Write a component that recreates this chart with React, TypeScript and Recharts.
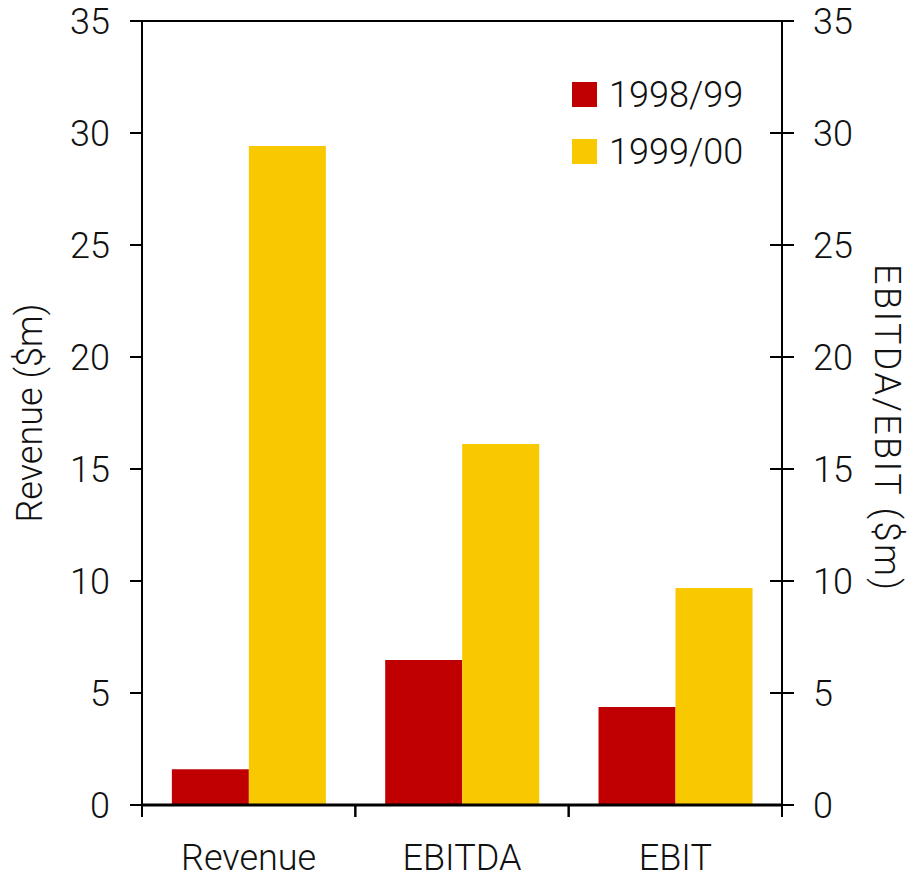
import { BarChart, Bar, XAxis, YAxis, ReferenceLine } from 'recharts'

const categories = ['Revenue', 'EBITDA', 'EBIT']
const fy9899 = [1.6, 6.47, 4.38]
const fy9900 = [29.42, 16.12, 9.69]
const yTicks = [0, 5, 10, 15, 20, 25, 30, 35]
const seriesNames = ['1998/99', '1999/00']

const RED = '#c00000'
const YELLOW = '#f8c800'
const FONT = 'Roboto, "Liberation Sans", sans-serif'

const W = 908
const H = 880
const LEFT_W = 142
const RIGHT_W = 126
const TOP = 21
const X_H = 75
const BAND = (W - LEFT_W - RIGHT_W) / categories.length

const data = categories.map((name, i) => ({
  name,
  a: fy9899[i],
  b: fy9900[i],
}))

const textStyle = { fontFamily: FONT, fontSize: 36, fill: '#111', fontWeight: 300 }

function LeftTick({ x, y, payload }: any) {
  return (
    <g>
      <line x1={x - 12} x2={x} y1={y} y2={y} stroke="#000" strokeWidth={2} />
      <text x={x - 32} y={y} dy="0.36em" textAnchor="end" {...textStyle}>{payload.value}</text>
    </g>
  )
}

function RightTick({ x, y, payload }: any) {
  return (
    <g>
      <line x1={x - 12} x2={x + 12} y1={y} y2={y} stroke="#000" strokeWidth={2} />
      <text x={x + 31} y={y} dy="0.36em" textAnchor="start" {...textStyle}>{payload.value}</text>
    </g>
  )
}

// category labels, with tick marks on the band edges
function CategoryTick({ x, y, payload }: any) {
  return (
    <g>
      <line x1={x - BAND / 2} x2={x - BAND / 2} y1={y} y2={y + 12} stroke="#000" strokeWidth={2} />
      <line x1={x + BAND / 2} x2={x + BAND / 2} y1={y} y2={y + 12} stroke="#000" strokeWidth={2} />
      <text x={x} y={y + 65} textAnchor="middle" {...textStyle}>{payload.value}</text>
    </g>
  )
}

function LegendBox() {
  const colors = [RED, YELLOW]
  return (
    <div
      style={{
        position: 'absolute', left: 572, top: 66,
        fontFamily: FONT, fontSize: 36, fontWeight: 300, color: '#111',
      }}
    >
      {seriesNames.map((n, i) => (
        <div key={n} style={{ display: 'flex', alignItems: 'center', height: 57 }}>
          <span style={{ width: 25, height: 25, background: colors[i], marginRight: 12, display: 'inline-block' }} />
          <span>{n}</span>
        </div>
      ))}
    </div>
  )
}

export default function App() {
  return (
    <div style={{ position: 'absolute', left: 0, top: 0, width: W, height: H, background: '#fff' }}>
      <BarChart
        width={W}
        height={H}
        data={data}
        margin={{ top: TOP, right: 0, bottom: 0, left: 0 }}
        barCategoryGap="14%"
        barGap={0}
      >
        <XAxis
          dataKey="name"
          height={X_H}
          axisLine={{ stroke: '#000', strokeWidth: 3 }}
          tickLine={false}
          tickSize={0}
          tickMargin={0}
          tick={<CategoryTick />}
          interval={0}
        />
        <YAxis
          yAxisId="left"
          width={LEFT_W}
          domain={[0, 35]}
          ticks={yTicks}
          axisLine={{ stroke: '#000', strokeWidth: 2 }}
          tickLine={false}
          tickSize={0}
          tickMargin={0}
          tick={<LeftTick />}
          label={{
            content: ({ viewBox }: any) => (
              <text
                x={29}
                y={viewBox.y + viewBox.height / 2}
                transform={`rotate(-90 29 ${viewBox.y + viewBox.height / 2})`}
                textAnchor="middle"
                dy="0.36em"
                {...textStyle}
              >
                Revenue ($m)
              </text>
            ),
          }}
        />
        <YAxis
          yAxisId="right"
          orientation="right"
          width={RIGHT_W}
          domain={[0, 35]}
          ticks={yTicks}
          axisLine={{ stroke: '#000', strokeWidth: 2 }}
          tickLine={false}
          tickSize={0}
          tickMargin={0}
          tick={<RightTick />}
          label={{
            content: ({ viewBox }: any) => {
              const cy = viewBox.y + viewBox.height / 2 + 14
              return (
                <text
                  x={888}
                  y={cy}
                  transform={`rotate(90 888 ${cy})`}
                  textAnchor="middle"
                  dy="0.36em"
                  textLength={326}
                  lengthAdjust="spacing"
                  {...textStyle}
                >
                  EBITDA/EBIT  ($m)
                </text>
              )
            },
          }}
        />
        <ReferenceLine yAxisId="left" y={35} stroke="#000" strokeWidth={2} />
        <Bar yAxisId="left" dataKey="a" name={seriesNames[0]} fill={RED} isAnimationActive={false} />
        {/* both axes share the 0–35 domain, so binding this series to the right one keeps the same scale */}
        <Bar yAxisId="right" dataKey="b" name={seriesNames[1]} fill={YELLOW} isAnimationActive={false} />
      </BarChart>
      <LegendBox />
    </div>
  )
}
